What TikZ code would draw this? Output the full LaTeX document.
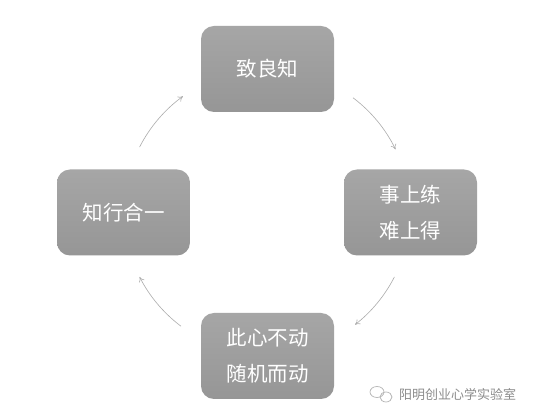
\documentclass[tikz,border=0pt]{standalone}
\usepackage{fontspec}
\newfontfamily\cjk{Noto Sans CJK SC}
\usetikzlibrary{arrows.meta,calc}
\definecolor{boxtop}{HTML}{A6A6A6}
\definecolor{boxbot}{HTML}{969696}
\definecolor{arrowgray}{HTML}{ABABAB}
\definecolor{markgray}{HTML}{8C8C8C}
\definecolor{iconstroke}{HTML}{B4B4B4}
\tikzset{
  stagebox/.style={rounded corners=13pt, minimum width=133pt, minimum height=86pt,
    top color=boxtop, bottom color=boxbot, draw=none, text=white,
    font=\cjk\fontsize{20.5}{36}\selectfont, align=center, inner sep=0pt},
  cyclearrow/.style={draw=arrowgray, line width=0.6pt, -{To[length=5pt,width=6pt]}},
  iconline/.style={draw=iconstroke, line width=0.7pt},
}
\begin{document}
\begin{tikzpicture}[x=1pt,y=1pt]
\useasboundingbox (0,0) rectangle (533,420);
\fill[white] (0,0) rectangle (533,420);
\node[stagebox] (top) at (267.5,351) {致良知};
\node[stagebox] (right) at (410.5,207.5) {事上练\\难上得};
\node[stagebox] (bottom) at (267.5,64) {此心不动\\随机而动};
\node[stagebox] (left) at (123.5,207.5) {知行合一};
\coordinate (c) at (267,208);
\coordinate (a1) at ($(c)+(153:143)$);
\coordinate (a2) at ($(c)+(53:143)$);
\coordinate (a3) at ($(c)+(-27:143)$);
\coordinate (a4) at ($(c)+(-127:143)$);
\draw[cyclearrow] (a1) arc[start angle=153, end angle=126, radius=143];
\draw[cyclearrow] (a2) arc[start angle=53, end angle=26, radius=143];
\draw[cyclearrow] (a3) arc[start angle=-27, end angle=-52, radius=143];
\draw[cyclearrow] (a4) arc[start angle=-127, end angle=-153, radius=143];
% watermark
\draw[iconline] (377,28) ellipse[x radius=7, y radius=5.5];
\draw[iconline] (386,23) ellipse[x radius=6, y radius=5];
\node[text=markgray, font=\cjk\fontsize{13}{13}\selectfont, anchor=west, inner sep=0pt] (mark) at (399,25) {阳明创业心学实验室};
\end{tikzpicture}
\end{document}
